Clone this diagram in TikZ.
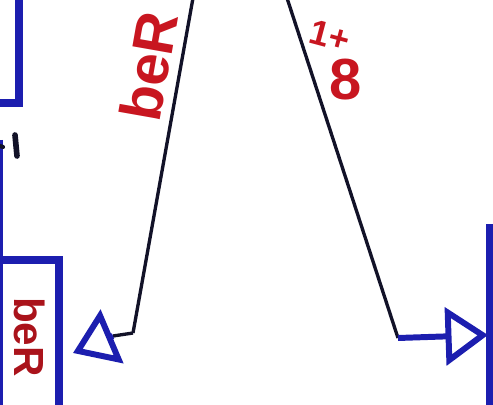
\documentclass[tikz,border=0pt]{standalone}
\usepackage{fontspec}
\setmainfont{Liberation Sans}
\usetikzlibrary{arrows.meta}
\definecolor{ink}{RGB}{28,30,175}
\definecolor{pen}{RGB}{18,18,40}
\definecolor{lab}{RGB}{200,22,32}
\tikzset{
  boxline/.style={draw=ink, line width=4.4pt},
  wire/.style={draw=pen, line width=1.9pt},
  tip/.style={-{Triangle[open, length=0.85cm, width=1.15cm]}, draw=ink, line width=3.4pt},
  lbl/.style={text=lab, inner sep=0pt, font=\bfseries\fontsize{33}{34}\selectfont},
  blbl/.style={text=lab!85!black, inner sep=0pt, font=\bfseries\fontsize{24}{26}\selectfont}
}
\begin{document}
\begin{tikzpicture}[x=0.02cm, y=-0.02cm]
  \useasboundingbox (0,0) rectangle (493,405);

  % boxes cut off by the edge of the picture
  \draw[boxline] (-60,-40) rectangle (19,103);
  \draw[draw=ink, line width=2.4pt] (1,140) -- (1,258);
  \node[boxline, rotate=-90, minimum width=3.4cm, minimum height=1.2cm, inner sep=0pt] (ber) at (29,345) {};
  \node[blbl, rotate=-90] (bertxt) at (30,337) {beR};
  \draw[boxline] (490,228) rectangle (580,460);

  % stray marks
  \draw[pen, line width=3.2pt, line cap=round] (15,135) -- (17,156);
  \draw[pen, line width=2.4pt, line cap=round] (0,146) -- (3,147);

  % two lines from the top
  \coordinate (la) at (193,-2);
  \coordinate (lb) at (133,333);
  \coordinate (lt) at (73,353);
  \coordinate (ra) at (287,-2);
  \coordinate (rb) at (398,338);
  \coordinate (rt) at (488,335);

  \draw[wire] (la) -- node[lbl, pos=0.22, rotate=80, anchor=south, outer sep=6pt] {beR} (lb);
  \draw[wire] (lb) -- (113,336);
  \draw[tip] (113,336) -- (lt);

  \draw[wire] (ra) -- (rb);
  \draw[tip] (rb) -- (rt);
  \node[lbl, rotate=-15] (count) at (330,36) {\fontsize{20}{20}\selectfont 1+};
  \node[lbl] (eight) at (346,80) {8};
\end{tikzpicture}
\end{document}
